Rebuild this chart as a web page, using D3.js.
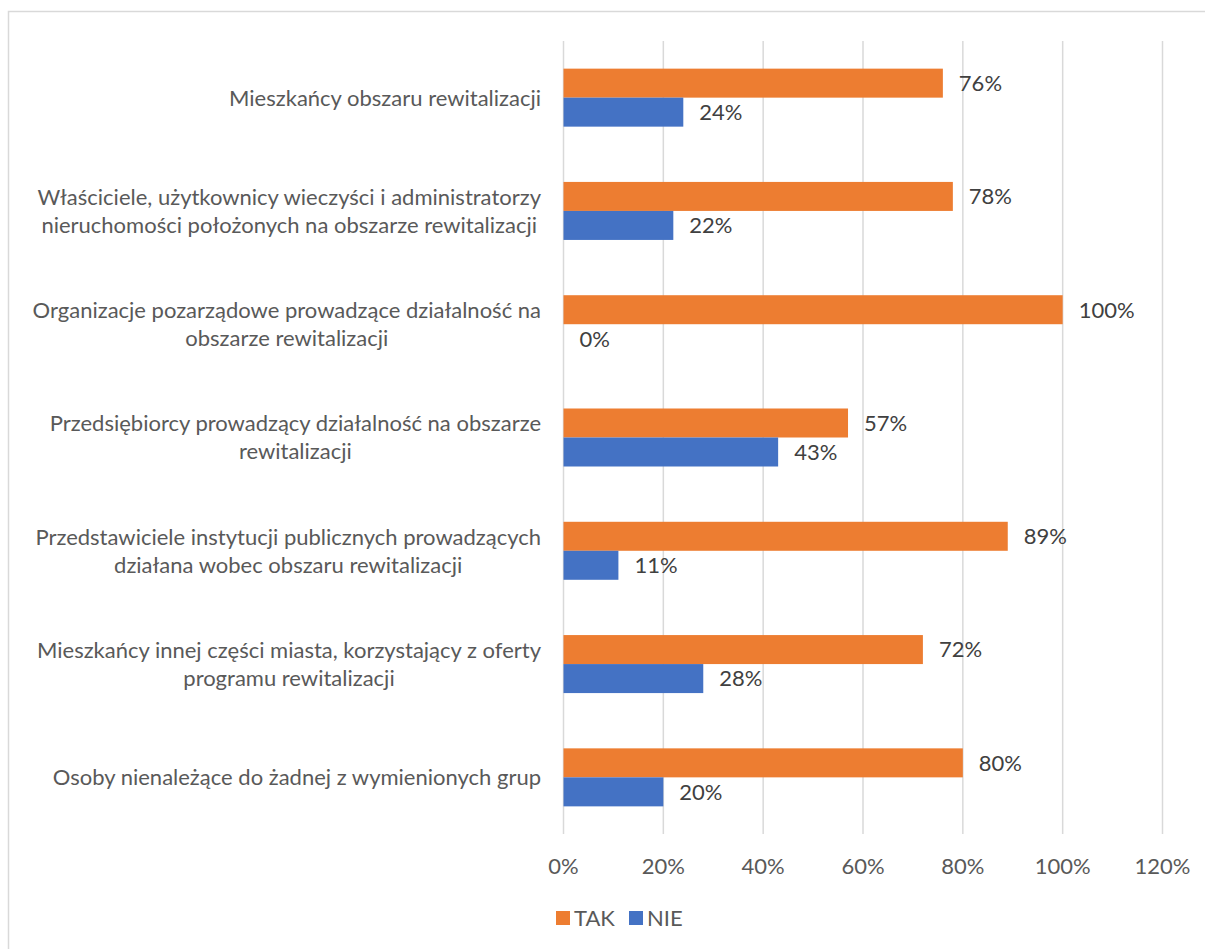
<!DOCTYPE html>
<html lang="pl">
<head>
  <meta charset="UTF-8">
  <title>TAK / NIE</title>
  <script src="https://d3js.org/d3.v7.min.js"></script>
  <style>
    body { margin: 0; background: #fff; }
    text { font-family: Lato, "Open Sans", sans-serif; }
  </style>
</head>
<body>
<div id="chart"></div>
<script>
  // category labels, already broken into lines as in the picture
  const categories = [
    ["Mieszkańcy obszaru rewitalizacji"],
    ["Właściciele, użytkownicy wieczyści i administratorzy", "nieruchomości położonych na obszarze rewitalizacji"],
    ["Organizacje pozarządowe prowadzące działalność na", "obszarze rewitalizacji"],
    ["Przedsiębiorcy prowadzący działalność na obszarze", "rewitalizacji"],
    ["Przedstawiciele instytucji publicznych prowadzących", "działana wobec obszaru rewitalizacji"],
    ["Mieszkańcy innej części miasta, korzystający z oferty", "programu rewitalizacji"],
    ["Osoby nienależące do żadnej z wymienionych grup"]
  ];
  const seriesNames = ["TAK", "NIE"];
  const takValues = [0.76, 0.78, 1.00, 0.57, 0.89, 0.72, 0.80];
  const nieValues = [0.24, 0.22, 0.00, 0.43, 0.11, 0.28, 0.20];
  const xTicks = [0, 0.2, 0.4, 0.6, 0.8, 1.0, 1.2];

  const colors = { TAK: "#ED7D31", NIE: "#4472C4" };

  const W = 1205, H = 949;
  const plot = { left: 563.5, right: 1162.5, top: 41, bottom: 834 };
  const fs = 22;

  const svg = d3.select("#chart").append("svg")
    .attr("width", W)
    .attr("height", H);

  // chart frame (runs past the right and bottom edge of the picture)
  svg.append("rect")
    .attr("x", 8.5).attr("y", 11.5)
    .attr("width", 1230).attr("height", 960)
    .attr("fill", "none")
    .attr("stroke", "#d9d9d9")
    .attr("stroke-width", 1.5);

  const x = d3.scaleLinear()
    .domain([0, 1.2])
    .range([plot.left, plot.right]);

  const idx = categories.map((d, i) => i);
  const y = d3.scaleBand()
    .domain(idx)
    .range([plot.top, plot.bottom])
    .paddingInner(0.488)
    .paddingOuter(0.244);

  const ySub = d3.scaleBand()
    .domain(seriesNames)
    .range([0, y.bandwidth()]);

  // gridlines
  svg.append("g")
    .selectAll("line")
    .data(xTicks)
    .join("line")
    .attr("x1", d => x(d)).attr("x2", d => x(d))
    .attr("y1", plot.top).attr("y2", plot.bottom)
    .attr("stroke", "#d9d9d9")
    .attr("stroke-width", 1.5);

  // x tick labels
  svg.append("g")
    .selectAll("text")
    .data(xTicks)
    .join("text")
    .attr("x", d => x(d))
    .attr("y", 866)
    .attr("dy", "0.36em")
    .attr("text-anchor", "middle")
    .attr("font-size", fs)
    .attr("fill", "#595959")
    .text(d => d3.format(".0%")(d));

  const rows = idx.map(i => [
    { s: "TAK", i: i, v: takValues[i] },
    { s: "NIE", i: i, v: nieValues[i] }
  ]).flat();

  // bars
  svg.append("g")
    .selectAll("rect")
    .data(rows)
    .join("rect")
    .attr("x", x(0))
    .attr("y", d => y(d.i) + ySub(d.s))
    .attr("width", d => x(d.v) - x(0))
    .attr("height", ySub.bandwidth())
    .attr("fill", d => colors[d.s]);

  // data labels
  svg.append("g")
    .selectAll("text")
    .data(rows)
    .join("text")
    .attr("x", d => x(d.v) + 16)
    .attr("y", d => y(d.i) + ySub(d.s) + ySub.bandwidth() / 2)
    .attr("dy", "0.36em")
    .attr("font-size", fs)
    .attr("fill", "#404040")
    .text(d => d3.format(".0%")(d.v));

  // category labels: block right aligned to the axis, lines centred in block
  const labelRight = 541;
  const lineH = 28;
  const catG = svg.append("g");
  categories.forEach((lines, i) => {
    const cy = y(i) + y.bandwidth() / 2;
    const g = catG.append("g");
    const texts = lines.map((t, k) => g.append("text")
      .attr("y", cy + (k - (lines.length - 1) / 2) * lineH)
      .attr("dy", "0.36em")
      .attr("text-anchor", "middle")
      .attr("font-size", fs)
      .attr("fill", "#595959")
      .text(t));
    const maxW = d3.max(texts, t => t.node().getComputedTextLength());
    texts.forEach(t => t.attr("x", labelRight - maxW / 2));
  });

  // legend
  const legend = svg.append("g");
  const legendItems = [
    { s: "TAK", x: 556 },
    { s: "NIE", x: 629 }
  ];
  legendItems.forEach(it => {
    legend.append("rect")
      .attr("x", it.x).attr("y", 911)
      .attr("width", 14).attr("height", 14)
      .attr("fill", colors[it.s]);
    legend.append("text")
      .attr("x", it.x + 18)
      .attr("y", 918)
      .attr("dy", "0.36em")
      .attr("font-size", fs)
      .attr("fill", "#595959")
      .text(it.s);
  });
</script>
</body>
</html>
